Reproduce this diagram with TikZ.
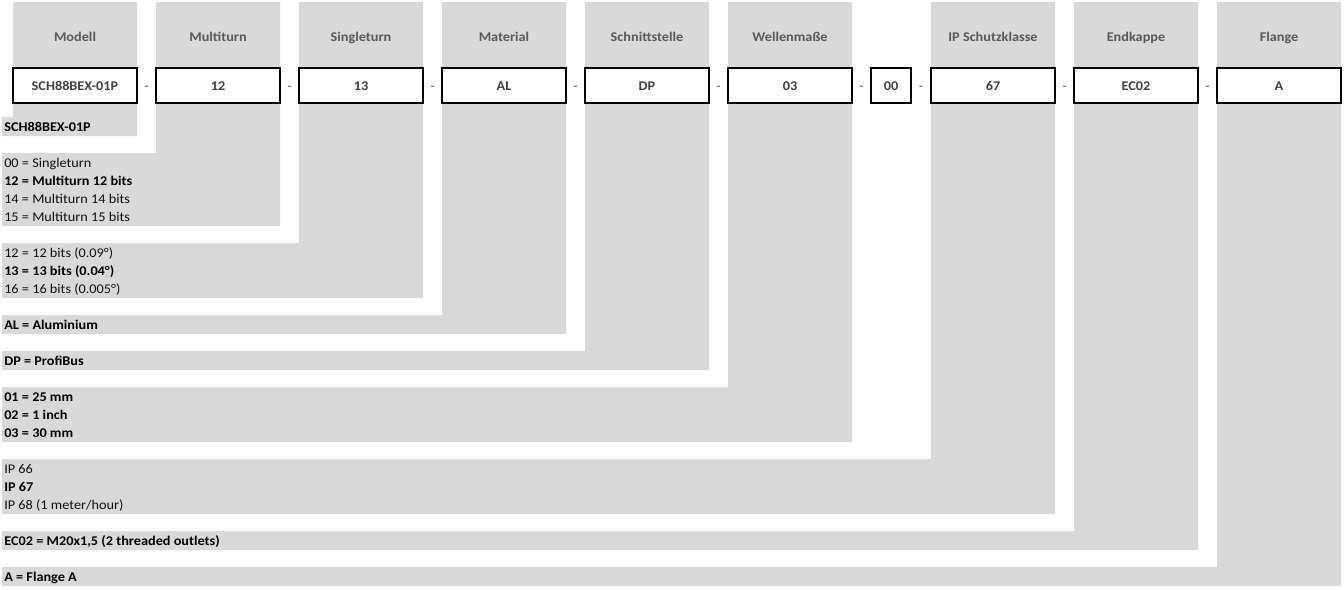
\documentclass[tikz,border=0pt]{standalone}
\usepackage{fontspec}
\setmainfont{Carlito}[FakeStretch=1.07]
\definecolor{bandgray}{HTML}{D9D9D9}
\definecolor{hdrgray}{HTML}{595959}
\definecolor{boxtext}{HTML}{404040}
\definecolor{normtext}{HTML}{111111}
\begin{document}
\begin{tikzpicture}[x=0.75pt,y=-0.75pt,
  hdr/.style={anchor=base, text=hdrgray, font=\bfseries, inner sep=0pt},
  codebox/.style={draw=black, line width=0.9pt, fill=white, minimum width=93pt,
    minimum height=26.25pt, inner sep=0pt, text=boxtext, font=\bfseries,
    text height=6.75pt, text depth=0pt},
  sep/.style={anchor=base, text=hdrgray, inner sep=0pt},
  bandtxt/.style={anchor=base west, inner sep=0pt, text=normtext},
  bandbold/.style={anchor=base west, inner sep=0pt, text=black, font=\bfseries}]
\useasboundingbox (0,0) rectangle (1344,589);
\fill[white] (0,0) rectangle (1344,589);
% gray columns and bands
\fill[bandgray] (13,2) rectangle (137,136) (2,117) rectangle (137,136);
\fill[bandgray] (156,2) rectangle (280,226) (2,153) rectangle (280,226);
\fill[bandgray] (299,2) rectangle (423,298) (2,243) rectangle (423,298);
\fill[bandgray] (442,2) rectangle (566,334) (2,315) rectangle (566,334);
\fill[bandgray] (585,2) rectangle (709,370) (2,351) rectangle (709,370);
\fill[bandgray] (728,2) rectangle (852,442) (2,387) rectangle (852,442);
\fill[bandgray] (931,2) rectangle (1055,514) (2,459) rectangle (1055,514);
\fill[bandgray] (1074,2) rectangle (1198,550) (2,531) rectangle (1198,550);
\fill[bandgray] (1217,2) rectangle (1341,586) (2,567) rectangle (1341,586);
% headers
\node[hdr] (h1) at (75,41) {Modell};
\node[hdr] (h2) at (218,41) {Multiturn};
\node[hdr] (h3) at (361,41) {Singleturn};
\node[hdr] (h4) at (504,41) {Material};
\node[hdr] (h5) at (647,41) {Schnittstelle};
\node[hdr] (h6) at (790,41) {Wellenmaße};
\node[hdr] (h7) at (993,41) {IP Schutzklasse};
\node[hdr] (h8) at (1136,41) {Endkappe};
\node[hdr] (h9) at (1279,41) {Flange};
% code boxes
\node[codebox] (b1) at (75,85.5) {SCH88BEX-01P};
\node[codebox] (b2) at (218,85.5) {12};
\node[codebox] (b3) at (361,85.5) {13};
\node[codebox] (b4) at (504,85.5) {AL};
\node[codebox] (b5) at (647,85.5) {DP};
\node[codebox] (b6) at (790,85.5) {03};
\node[codebox, minimum width=30pt] (b0) at (891,85.5) {00};
\node[codebox] (b7) at (993,85.5) {67};
\node[codebox] (b8) at (1136,85.5) {EC02};
\node[codebox] (b9) at (1279,85.5) {A};
% separators
\node[sep] (s1) at (146.5,90) {-};
\node[sep] (s2) at (289.5,90) {-};
\node[sep] (s3) at (432.5,90) {-};
\node[sep] (s4) at (575.5,90) {-};
\node[sep] (s5) at (718.5,90) {-};
\node[sep] (s6) at (861.5,90) {-};
\node[sep] (s7) at (921,90) {-};
\node[sep] (s8) at (1064.5,90) {-};
\node[sep] (s9) at (1207.5,90) {-};
% band texts
\node[bandbold] (t1) at (4,131) {SCH88BEX-01P};
\node[bandtxt] (t2a) at (4,167) {00 = Singleturn};
\node[bandbold] (t2b) at (4,185) {12 = Multiturn 12 bits};
\node[bandtxt] (t2c) at (4,203) {14 = Multiturn 14 bits};
\node[bandtxt] (t2d) at (4,221) {15 = Multiturn 15 bits};
\node[bandtxt] (t3a) at (4,257) {12 = 12 bits (0.09°)};
\node[bandbold] (t3b) at (4,275) {13 = 13 bits (0.04°)};
\node[bandtxt] (t3c) at (4,293) {16 = 16 bits (0.005°)};
\node[bandbold] (t4) at (4,329) {AL = Aluminium};
\node[bandbold] (t5) at (4,365) {DP = ProfiBus};
\node[bandbold] (t6a) at (4,401) {01 = 25 mm};
\node[bandbold] (t6b) at (4,419) {02 = 1 inch};
\node[bandbold] (t6c) at (4,437) {03 = 30 mm};
\node[bandtxt] (t7a) at (4,473) {IP 66};
\node[bandbold] (t7b) at (4,491) {IP 67};
\node[bandtxt] (t7c) at (4,509) {IP 68 (1 meter/hour)};
\node[bandbold] (t8) at (4,545) {EC02 = M20x1,5 (2 threaded outlets)};
\node[bandbold] (t9) at (4,581) {A = Flange A};
\end{tikzpicture}
\end{document}
